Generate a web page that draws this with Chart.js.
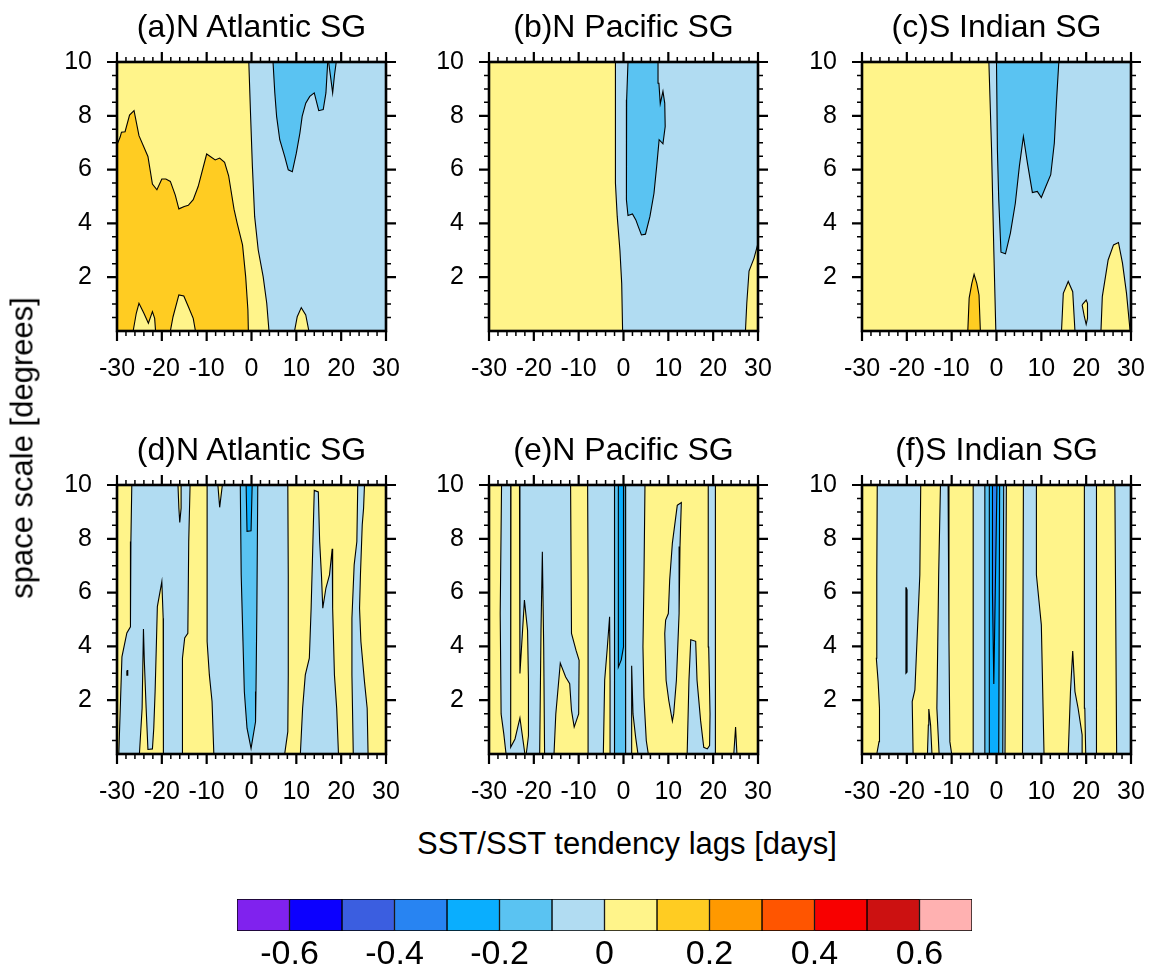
<!DOCTYPE html>
<html lang="en">
<head>
  <meta charset="UTF-8" />
  <title>SST / SST tendency lag correlations</title>
  <script src="https://cdn.jsdelivr.net/npm/chart.js"></script>
  <style>
    body { margin: 0; background: #fff; font-family: 'Liberation Sans', Arial, Helvetica, sans-serif; }
    #page { position: relative; width: 1151px; height: 969px; overflow: hidden; }
    canvas { position: absolute; }
    .lbl { position: absolute; transform: translate(-50%, -50%); white-space: nowrap; font-size: 30px; line-height: 1; color: #000; }
    .rot { transform: translate(-50%, -50%) rotate(-90deg); }
  </style>
</head>
<body>
<div id="page"></div>
<script>
// axes
const lagTicks = [-30, -20, -10, 0, 10, 20, 30];
const scaleTicks = [2, 4, 6, 8, 10];
const cbTicks = [-0.6, -0.4, -0.2, 0, 0.2, 0.4, 0.6];
const levelEdges = [-0.7, -0.6, -0.5, -0.4, -0.3, -0.2, -0.1, 0, 0.1, 0.2, 0.3, 0.4, 0.5, 0.6, 0.7];
const levelColors = ['#8022ee', '#0c00ff', '#3b5ee0', '#2884f2', '#0aaefe', '#5ac3f2', '#b1dcf2',
                     '#fff48a', '#ffcc22', '#ff9900', '#ff5500', '#f80000', '#cc1111', '#ffb1b1'];
const titles = ['(a)N Atlantic SG', '(b)N Pacific SG', '(c)S Indian SG',
                '(d)N Atlantic SG', '(e)N Pacific SG', '(f)S Indian SG'];

// contour regions, [lag, scale]
// (a)
const aGold = [[-30,6.92],[-29.3,7.21],[-29.0,7.39],[-28.2,7.41],[-27.2,8.03],[-26.2,8.19],[-25.1,7.26],[-23.1,6.49],[-22.1,5.46],[-21.1,5.25],[-20.0,5.65],[-19.1,5.65],[-18.1,5.56],[-17.0,5.05],[-16.2,4.54],[-15.0,4.63],[-14.1,4.67],[-13.0,4.88],[-11.9,5.37],[-10.0,6.58],[-8.1,6.36],[-7.1,6.43],[-6.0,6.27],[-5.1,5.77],[-3.9,4.53],[-3.2,4.01],[-2.0,3.20],[-1.3,2.02],[-0.8,0.78],[-0.7,0],[-12.5,0],[-13.0,0.47],[-14.1,0.91],[-15.1,1.30],[-16.2,1.34],[-17.5,0.53],[-18.1,0],[-21.4,0],[-21.6,0.47],[-22.1,0.72],[-23.0,0.29],[-24.0,0.66],[-25.1,1.03],[-25.7,0.66],[-26.4,0],[-30,0]];
const aBlue = [[-0.6,10],[-0.2,8.0],[0.2,6.12],[0.7,4.26],[1.5,3.01],[2.6,2.02],[3.4,1.03],[3.9,0],[9.6,0],[10.2,0.53],[11.1,0.87],[12.1,0.60],[12.8,0],[30,0],[30,10]];
const aSky1 = [[4.8,10],[5.2,8.85],[5.6,7.98],[6.3,7.11],[7.4,6.49],[8.2,5.99],[9.1,5.92],[10.0,6.61],[10.8,7.36],[11.3,7.98],[12.1,8.47],[13.0,8.72],[14.0,8.85],[15.0,8.19],[16.0,8.23],[16.6,8.85],[17.0,10]];
const aSky2 = [[17.2,10],[17.6,9.5],[18.1,8.85],[18.5,9.5],[18.9,10]];
// (b)
const bBlue = [[-1.8,10],[-1.8,7.98],[-1.8,5.5],[-1.4,4.26],[-0.8,3.0],[-0.4,1.77],[-0.2,0],[27.2,0],[27.5,1.03],[28.0,2.23],[29.1,2.70],[30,3.26],[30,10]];
const bSky = [[1.0,10],[0.7,8.6],[0.6,6.74],[0.7,4.88],[1.0,4.29],[2.0,4.35],[2.75,4.13],[3.3,3.88],[4.0,3.57],[4.9,3.6],[5.9,4.26],[6.8,5.12],[7.4,6.12],[7.95,7.11],[8.8,6.96],[9.3,7.6],[9.2,8.47],[8.8,8.91],[8.2,8.45],[7.9,9.21],[7.7,10]];
// (c)
const cBlue = [[-1.7,10],[-1.1,6.74],[-0.6,3.0],[-0.15,0],[14.5,0],[14.9,1.40],[16.0,1.84],[17.0,1.46],[17.5,0],[23.3,0],[23.6,1.28],[24.9,2.64],[26.1,3.2],[27.2,3.29],[28.1,2.52],[29.0,1.40],[29.8,0],[30,0],[30,10]];
const cSky = [[0.0,10],[0.2,6.74],[0.5,4.88],[1.0,2.93],[2.0,2.87],[3.1,3.64],[4.2,4.75],[5.1,6.12],[6.0,7.23],[6.9,6.24],[8.0,5.15],[9.1,5.19],[10.0,4.96],[11.0,5.37],[12.1,5.81],[12.9,6.99],[13.4,8.6],[13.9,10]];
const cGold = [[-6.4,0],[-6.1,1.22],[-5.5,1.77],[-5.0,2.11],[-4.4,1.77],[-3.9,1.34],[-3.6,0]];
const cIsle = [[19.1,0.97],[20.0,1.15],[20.3,1.03],[20.3,0.47],[20.0,0.25],[19.6,0.53]];
// (d)
const dY1 = [[-30,10],[-26.7,10],[-26.9,7.9],[-27.0,4.73],[-27.8,4.50],[-28.9,3.61],[-29.6,0],[-30,0]];
const dIsle = [[-27.8,3.1],[-27.6,3.1],[-27.6,2.93],[-27.8,2.93]];
const dY2 = [[-25.0,0],[-24.4,1.70],[-24.1,4.65],[-23.9,3.44],[-23.5,1.70],[-23.1,0.17],[-22.1,0.19],[-21.8,0.96],[-21.5,2.32],[-21.2,4.18],[-21.0,5.48],[-20.0,6.41],[-19.7,5.05],[-19.6,2.94],[-19.7,0]];
const dY3 = [[-16.4,10],[-16.2,9.14],[-16.0,8.61],[-15.7,9.14],[-15.7,10]];
const dY4 = [[-13.7,10],[-9.9,10],[-9.9,4.18],[-9.4,2.94],[-8.8,1.95],[-8.4,0],[-15.3,0],[-15.4,3.56],[-14.9,4.31],[-14.2,4.49],[-14.0,7.90]];
const dY5 = [[-7.5,10],[-7.1,9.17],[-6.5,10]];
const dSky = [[-2.5,10],[1.4,10],[1.2,5.42],[1.0,2.32],[0.9,1.20],[-0.1,0.21],[-1.0,0.96],[-1.6,2.32],[-1.9,4.18],[-2.3,6.66]];
const dDeep = [[-1.2,10],[0.15,10],[-0.1,8.30],[-1.0,8.28]];
const dY6 = [[8.1,10],[23.7,10],[23.5,7.90],[22.9,7.03],[22.4,5.05],[22.4,2.94],[22.7,0],[7.4,0],[8.1,0.83],[8.2,2.94],[8.2,6.66]];
const dPocket = [[10.9,0],[11.4,1.70],[12.0,2.94],[12.9,3.56],[13.3,5.42],[13.7,7.90],[14.0,9.80],[14.9,9.74],[15.2,7.90],[15.6,6.66],[15.9,5.42],[16.6,6.17],[17.4,6.66],[18.0,7.63],[18.1,5.42],[18.5,2.94],[19.0,1.70],[19.4,0]];
const dY7 = [[25.2,10],[30,10],[30,0],[26.0,0],[25.8,1.70],[25.2,2.69],[24.4,4.18],[24.1,5.42],[24.3,6.66],[24.7,8.52],[25.0,9.14]];
// (e)
const eB1 = [[-27.2,10],[-25.1,10],[-25.1,6.47],[-25.3,2.74],[-25.1,0.25],[-24.2,0.56],[-23.1,1.34],[-22.3,0.37],[-22.0,0],[-26.2,0],[-26.7,0.75],[-27.3,1.49],[-27.5,5.22]];
const eB2 = [[-23.2,10],[-23.1,6.47],[-23.1,2.99],[-22.1,5.72],[-21.4,4.60],[-21.2,2.74],[-21.2,0.68],[-21.5,0.25],[-21.7,0],[-18.7,0],[-18.4,4.60],[-18.1,7.52],[-17.8,3.98],[-17.6,0],[-15.5,0],[-15.1,1.49],[-14.1,3.38],[-12.9,2.86],[-12.0,2.61],[-11.6,1.62],[-11.0,1.0],[-10.0,1.49],[-9.9,3.48],[-10.6,3.86],[-11.6,4.48],[-11.8,10]];
const eB3 = [[-8.0,10],[-2.0,10],[-2.0,0],[-2.9,0],[-3.0,2.74],[-3.1,5.10],[-3.6,3.98],[-4.2,2.74],[-4.5,0],[-7.8,0],[-7.9,6.47]];
const eSky = [[-2.0,10],[0.48,10],[0.48,0],[-2.0,0]];
const eDeep = [[-1.15,10],[0.05,10],[0.0,3.98],[-0.5,3.5],[-1.15,3.23]];
const eB4 = [[0.48,10],[4.79,10],[4.56,6.47],[4.34,3.98],[4.56,2.11],[5.08,0.5],[5.53,0],[3.23,0],[2.71,0.62],[2.12,1.49],[1.82,3.28],[1.82,0],[0.48,0]];
const ePocket = [[12.0,9.25],[12.9,9.35],[12.6,7.71],[12.4,5.22],[12.1,3.98],[11.8,2.74],[11.2,1.5],[10.9,1.22],[10.1,1.99],[9.5,2.74],[9.2,4.48],[9.4,4.98],[10.0,5.22],[10.3,6.47],[10.9,7.84]];
const eB5 = [[18.9,10],[20.5,10],[20.5,0],[14.2,0],[14.6,2.74],[15.0,4.25],[16.1,4.19],[16.4,2.74],[17.2,1.24],[17.9,0.25],[18.7,0.19],[19.2,0.31],[19.3,1.49],[19.0,3.98],[18.9,6.47]];
const eB6 = [[24.6,0],[25.0,1.0],[25.3,0]];
// (f)
const fB1 = [[-26.6,10],[-16.9,10],[-17.1,6.66],[-17.9,3.56],[-18.2,2.38],[-18.8,1.95],[-18.6,0],[-26.7,0],[-26.2,0.46],[-26.1,1.70],[-26.4,2.69],[-26.8,3.56],[-26.7,6.66]];
const fIsle = [[-20.2,6.2],[-19.95,6.1],[-19.95,3.05],[-20.2,3.0]];
const fB2 = [[-15.4,0],[-15.2,1.08],[-15.1,1.67],[-14.7,1.08],[-14.4,0]];
const fB3 = [[-12.5,10],[-10.8,10],[-10.6,4.18],[-10.4,0.46],[-10.0,0],[-12.8,0],[-13.3,1.70],[-12.9,6.66]];
const fB4 = [[-5.2,10],[2.2,10],[1.9,0],[-5.2,0]];
const fSky = [[-2.6,10],[1.6,10],[1.4,0],[-2.6,0]];
const fDeep = [[-1.6,10],[0.7,10],[0.5,0],[-1.5,0]];
const fDodger = [[-0.9,10],[0.1,10],[-0.6,2.6],[-0.9,6.0]];
const fB5 = [[6.0,10],[8.9,10],[8.9,6.66],[10.0,4.8],[10.6,0],[5.8,0]];
const fB6 = [[16.0,0],[16.5,2.32],[17.0,3.83],[17.5,2.32],[18.2,1.70],[19.1,0.71],[19.1,0]];
const fB7 = [[19.6,10],[22.3,10],[22.3,0],[19.9,0],[19.7,1.70],[19.6,4.18]];
const fB8 = [[26.4,10],[30,10],[30,0],[26.8,0]];

// level of each region (value inside the colour band)
const panels = [
  { bg: 0.05, regions: [[0.15, aGold], [-0.05, aBlue], [-0.15, aSky1], [-0.15, aSky2]] },
  { bg: 0.05, regions: [[-0.05, bBlue], [-0.15, bSky]] },
  { bg: 0.05, regions: [[-0.05, cBlue], [-0.15, cSky], [0.15, cGold], [0.05, cIsle]] },
  { bg: -0.05, regions: [[0.05, dY1], [0.05, dIsle], [0.05, dY2], [0.05, dY3], [0.05, dY4], [0.05, dY5],
                         [-0.15, dSky], [-0.25, dDeep], [0.05, dY6], [-0.05, dPocket], [0.05, dY7]] },
  { bg: 0.05, regions: [[-0.05, eB1], [-0.05, eB2], [-0.05, eB3], [-0.15, eSky], [-0.25, eDeep],
                        [-0.05, eB4], [-0.05, ePocket], [-0.05, eB5], [-0.05, eB6]] },
  { bg: 0.05, regions: [[-0.05, fB1], [-0.15, fIsle], [-0.05, fB2], [-0.05, fB3], [-0.05, fB4],
                        [-0.15, fSky], [-0.25, fDeep], [-0.35, fDodger], [-0.05, fB5], [-0.05, fB6],
                        [-0.05, fB7], [-0.05, fB8]] }
];

const lagMinor = [], scaleMinor = [];
for (let v = -28; v < 30; v += 2) if (v % 10 !== 0) lagMinor.push(v);
for (let v = 0.5; v < 10; v += 0.5) if (v % 2 !== 0) scaleMinor.push(v);

const FONT = "'Liberation Sans', Arial, Helvetica, sans-serif";
Chart.defaults.font.family = FONT;
Chart.defaults.color = '#000';

function colorFor(v) {
  let i = levelEdges.findIndex((e, k) => v >= e && v < levelEdges[k + 1]);
  return levelColors[i];
}

const frameTicks = {
  id: 'frameTicks',
  afterDatasetsDraw(chart) {
    const { ctx, chartArea: a, scales: { x, y } } = chart;
    ctx.save();
    ctx.strokeStyle = '#000';
    const marks = (vals, scale, len, w) => {
      ctx.lineWidth = w;
      ctx.beginPath();
      vals.forEach(v => {
        const p = scale.getPixelForValue(v);
        if (scale.axis === 'x') {
          ctx.moveTo(p, a.bottom); ctx.lineTo(p, a.bottom + len);
          ctx.moveTo(p, a.top); ctx.lineTo(p, a.top - len);
        } else {
          ctx.moveTo(a.left - len, p); ctx.lineTo(a.left, p);
          ctx.moveTo(a.right, p); ctx.lineTo(a.right + len, p);
        }
      });
      ctx.stroke();
    };
    marks(lagMinor, x, 5, 1.5);
    marks(scaleMinor, y, 5, 1.5);
    marks(lagTicks, x, 10, 2.2);
    marks(scaleTicks, y, 10, 2.2);
    ctx.lineWidth = 2.6;
    ctx.strokeRect(a.left, a.top, a.right - a.left, a.bottom - a.top);
    ctx.restore();
  }
};

const page = document.getElementById('page');
const cols = [117, 489, 862], rows = [62, 485], side = 269;

function label(text, x, y, size, cls) {
  const d = document.createElement('div');
  d.className = 'lbl' + (cls ? ' ' + cls : '');
  d.style.left = x + 'px';
  d.style.top = y + 'px';
  d.style.fontSize = size + 'px';
  d.textContent = text;
  page.appendChild(d);
}

panels.forEach((p, k) => {
  const left = cols[k % 3], top = rows[Math.floor(k / 3)];
  const cv = document.createElement('canvas');
  cv.width = 80 + side + 20;
  cv.height = 20 + side + 60;
  cv.style.left = (left - 80) + 'px';
  cv.style.top = (top - 20) + 'px';
  page.appendChild(cv);

  const layers = [[p.bg, [[-30, 0], [30, 0], [30, 10], [-30, 10]]], ...p.regions];
  const datasets = layers.map(([lvl, pts], i) => ({
    data: pts.concat([pts[0]]).map(([x, y]) => ({ x, y })),
    showLine: true,
    fill: 'shape',
    backgroundColor: colorFor(lvl),
    borderColor: '#000',
    borderWidth: i ? 1.1 : 0,
    pointRadius: 0,
    tension: 0,
    order: layers.length - i
  }));

  new Chart(cv, {
    type: 'scatter',
    data: { datasets },
    options: {
      responsive: false,
      animation: false,
      events: [],
      layout: { padding: { top: 20, right: 20, left: 0, bottom: 0 } },
      plugins: { legend: { display: false }, tooltip: { enabled: false } },
      scales: {
        x: {
          type: 'linear', min: -30, max: 30,
          grid: { display: false, drawTicks: false },
          border: { display: false },
          afterBuildTicks: s => { s.ticks = lagTicks.map(v => ({ value: v })); },
          afterFit: s => { s.height = 60; s.paddingLeft = 0; s.paddingRight = 0; },
          ticks: { font: { size: 25 }, padding: 23, autoSkip: false, maxRotation: 0 }
        },
        y: {
          type: 'linear', min: 0, max: 10,
          grid: { display: false, drawTicks: false },
          border: { display: false },
          afterBuildTicks: s => { s.ticks = scaleTicks.map(v => ({ value: v })); },
          afterFit: s => { s.width = 80; s.paddingTop = 0; s.paddingBottom = 0; },
          ticks: { font: { size: 25 }, padding: 25, autoSkip: false }
        }
      }
    },
    plugins: [frameTicks]
  });

  label(titles[k], left + side / 2, top - 36, 32);
});

label('space scale [degrees]', 22, 448, 31, 'rot');
label('SST/SST tendency lags [days]', 627, 843, 31);

// colour bar
const cb = document.createElement('canvas');
cb.width = 835; cb.height = 80;
cb.style.left = '187px'; cb.style.top = '889px';
page.appendChild(cb);
new Chart(cb, {
  type: 'bar',
  data: {
    labels: [''],
    datasets: levelColors.map((c, i) => ({
      data: [[levelEdges[i], levelEdges[i + 1]]],
      backgroundColor: c,
      borderColor: '#000',
      borderWidth: 1,
      borderSkipped: false,
      grouped: false,
      barPercentage: 1,
      categoryPercentage: 1
    }))
  },
  options: {
    indexAxis: 'y',
    responsive: false,
    animation: false,
    events: [],
    layout: { padding: { left: 50, right: 50, top: 10, bottom: 0 } },
    plugins: { legend: { display: false }, tooltip: { enabled: false } },
    scales: {
      x: {
        type: 'linear', min: -0.7, max: 0.7,
        grid: { display: false, drawTicks: false },
        border: { display: false },
        afterBuildTicks: s => { s.ticks = cbTicks.map(v => ({ value: v })); },
        afterFit: s => { s.height = 38; s.paddingLeft = 0; s.paddingRight = 0; },
        ticks: { font: { size: 34 }, padding: 3, autoSkip: false, maxRotation: 0,
                 callback: v => String(Math.round(v * 10) / 10) }
      },
      y: { display: false }
    }
  }
});
</script>
</body>
</html>
